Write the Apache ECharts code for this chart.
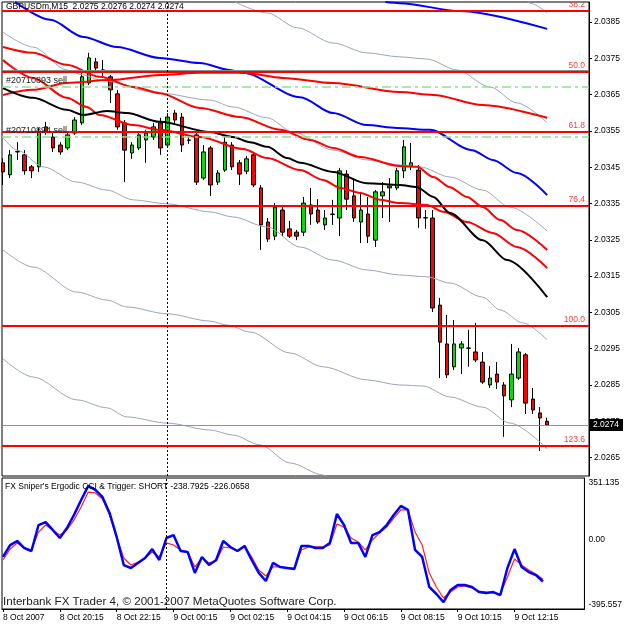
<!DOCTYPE html>
<html>
<head>
<meta charset="utf-8">
<title>GBPUSDm,M15</title>
<script src="https://cdn.jsdelivr.net/npm/echarts/dist/echarts.min.js"></script>
<style>
  html, body { margin: 0; padding: 0; background: #fff; }
  #chart { width: 625px; height: 625px; }
</style>
</head>
<body>
<div id="chart"></div>
<script>
// M15 bars, bar 0 = 8 Oct 18:15
var opens = [
  2.03462,2.03429,2.03492,2.03484,2.03451,2.03451,2.03561,2.03533,2.03511,2.03503,
  2.03544,2.03572,2.03682,2.03740,2.03718,2.03699,2.03652,2.03572,2.03489,2.03503,
  2.03525,2.03533,2.03572,2.03511,2.03599,2.03588,2.03525,2.03539,2.03420,2.03503,
  2.03409,2.03442,2.03511,2.03462,2.03439,2.03484,2.03393,2.03299,2.03260,2.03332,
  2.03280,2.03271,2.03271,2.03346,2.03332,2.03291,2.03321,2.03310,2.03431,2.03371,
  2.03299,2.03321,2.03249,2.03371,2.03393,2.03393,2.03440,2.03453,2.03442,2.03310,
  2.03310,2.03070,2.02963,2.02900,2.02952,2.02952,2.02941,2.02913,2.02850,2.02880,
  2.02850,2.02809,2.02869,2.02933,2.02811,2.02773,2.02750
];
var closes = [
  2.03437,2.03484,2.03493,2.03440,2.03440,2.03547,2.03547,2.03503,2.03492,2.03539,
  2.03580,2.03699,2.03751,2.03723,2.03717,2.03663,2.03561,2.03497,2.03511,2.03539,
  2.03544,2.03561,2.03503,2.03588,2.03580,2.03511,2.03524,2.03409,2.03492,2.03401,
  2.03434,2.03519,2.03451,2.03431,2.03473,2.03401,2.03291,2.03252,2.03340,2.03271,
  2.03260,2.03260,2.03351,2.03321,2.03299,2.03310,2.03320,2.03440,2.03362,2.03310,
  2.03332,2.03260,2.03382,2.03382,2.03398,2.03440,2.03506,2.03462,2.03310,2.03311,
  2.03062,2.02968,2.02878,2.02963,2.02963,2.02951,2.02919,2.02858,2.02869,2.02858,
  2.02820,2.02880,2.02941,2.02800,2.02781,2.02759,2.02740
];
var lows = [
  2.03401,2.03420,2.03470,2.03429,2.03420,2.03437,2.03539,2.03492,2.03484,2.03497,
  2.03539,2.03566,2.03676,2.03712,2.03699,2.03627,2.03553,2.03409,2.03473,2.03497,
  2.03462,2.03525,2.03484,2.03503,2.03569,2.03492,2.03514,2.03401,2.03415,2.03371,
  2.03401,2.03437,2.03442,2.03401,2.03431,2.03395,2.03222,2.03244,2.03249,2.03260,
  2.03255,2.03249,2.03260,2.03291,2.03294,2.03277,2.03291,2.03260,2.03332,2.03299,
  2.03241,2.03241,2.03230,2.03310,2.03299,2.03387,2.03420,2.03442,2.03283,2.03280,
  2.03051,2.02869,2.02869,2.02891,2.02880,2.02900,2.02913,2.02853,2.02842,2.02839,
  2.02707,2.02789,2.02864,2.02770,2.02770,2.02668,2.02740
];
var highs = [
  2.03475,2.03497,2.03519,2.03497,2.03456,2.03558,2.03575,2.03544,2.03519,2.03547,
  2.03588,2.03709,2.03765,2.03751,2.03745,2.03704,2.03663,2.03580,2.03519,2.03547,
  2.03553,2.03572,2.03586,2.03599,2.03608,2.03599,2.03533,2.03547,2.03511,2.03508,
  2.03442,2.03533,2.03519,2.03470,2.03481,2.03492,2.03401,2.03310,2.03351,2.03340,
  2.03302,2.03277,2.03368,2.03393,2.03362,2.03332,2.03360,2.03448,2.03442,2.03420,
  2.03382,2.03368,2.03387,2.03409,2.03420,2.03448,2.03525,2.03517,2.03456,2.03332,
  2.03332,2.03090,2.03043,2.03029,2.02971,2.03002,2.03021,2.02941,2.02902,2.02913,
  2.02858,2.02963,2.02952,2.02938,2.02842,2.02789,2.02760
];

// indicator lines on the price pane, [bar, price]
var blueSlow = [[1.7,2.03905],[6.6,2.03856],[11.2,2.03809],[15.9,2.03781],[21.9,2.03751],[27.5,2.03737],[31.7,2.03718],[33.5,2.03710],[41.5,2.03643],[46.1,2.03599],[50.8,2.03566],[55.0,2.03558],[59.6,2.03553],[65.5,2.03497],[68.4,2.03470],[71.8,2.03434],[76,2.03373]];
var blueUpper = [[53.4,2.03905],[55.4,2.03902],[63.8,2.03880],[76,2.03831]];
var redSlow = [[0,2.03649],[4.2,2.03663],[8.9,2.03682],[14.9,2.03690],[21.9,2.03704],[27.5,2.03710],[33.5,2.03710],[39.1,2.03696],[46.1,2.03682],[55.4,2.03657],[60.1,2.03649],[67.0,2.03621],[76,2.03586]];
var redUpper = [[0,2.03781],[4.2,2.03765],[8.9,2.03732],[13.5,2.03699],[18.2,2.03671],[21.9,2.03654],[27.5,2.03613],[33.1,2.03588],[38.7,2.03553],[42.9,2.03525],[46.1,2.03503],[49.9,2.03478],[55.4,2.03453],[57.8,2.03451],[60.1,2.03423],[62.4,2.03395],[64.8,2.03368],[67.0,2.03340],[69.4,2.03305],[71.8,2.03277],[76,2.03222]];
var redLower = [[0,2.03745],[4.2,2.03696],[8.9,2.03641],[11.7,2.03616],[13.5,2.03594],[18.2,2.03566],[21.9,2.03553],[27.5,2.03533],[33.5,2.03500],[36.9,2.03475],[41.5,2.03442],[44.7,2.03415],[47.1,2.03393],[49.9,2.03379],[52.7,2.03360],[55.4,2.03351],[59.2,2.03346],[61.5,2.03327],[64.8,2.03299],[68.4,2.03269],[71.8,2.03230],[76,2.03172]];
var blackMa = [[0,2.03668],[4.2,2.03641],[8.9,2.03608],[11.2,2.03594],[14.5,2.03605],[17.3,2.03599],[21.9,2.03575],[28.9,2.03547],[32.1,2.03533],[34.5,2.03519],[36.9,2.03506],[39.7,2.03475],[41.5,2.03462],[46.1,2.03437],[50.8,2.03406],[55.4,2.03401],[57.8,2.03395],[60.1,2.03368],[62.4,2.03324],[67.0,2.03249],[70.4,2.03194],[76,2.03092]];
var grayFastUp = [[0,2.03822],[4.2,2.03781],[8.9,2.03718],[11.2,2.03704],[13.5,2.03690],[21.9,2.03654],[28.9,2.03635],[32.1,2.03616],[36.9,2.03586],[40.5,2.03547],[46.1,2.03497],[50.8,2.03470],[55.4,2.03456],[58.2,2.03451],[62.4,2.03423],[67.0,2.03387],[70.8,2.03340],[76,2.03274]];
var grayFastDn = [[0,2.03531],[2.0,2.03497],[5.6,2.03451],[10.3,2.03409],[14.5,2.03387],[18.2,2.03360],[22.9,2.03349],[28.9,2.03327],[32.1,2.03313],[36.9,2.03285],[41.5,2.03230],[46.1,2.03194],[50.8,2.03167],[55.4,2.03153],[59.2,2.03148],[62.4,2.03131],[67.0,2.03092],[69.4,2.03057],[72.6,2.03021],[76,2.02974]];
var graySlowUp = [[32.4,2.03905],[36.9,2.03875],[41.1,2.03834],[46.1,2.03792],[50.8,2.03765],[55.4,2.03754],[59.2,2.03748],[63.4,2.03718],[68.0,2.03671],[71.8,2.03627],[76,2.03572]];
var grayTop = [[72.8,2.03915],[73.6,2.03902],[76,2.03875]];
var graySlowDn = [[0,2.03222],[4.2,2.03175],[10.3,2.03106],[14.5,2.03084],[17.3,2.03065],[22.9,2.03046],[28.9,2.03026],[31.3,2.03015],[34.5,2.02996],[40.1,2.02938],[44.7,2.02900],[50.8,2.02864],[55.4,2.02850],[58.7,2.02847],[62.4,2.02817],[67.0,2.02789],[70.8,2.02745],[76,2.02674]];
var grayFar = [[0,2.02922],[4.2,2.02872],[10.3,2.02809],[14.5,2.02787],[17.3,2.02762],[22.9,2.02745],[28.9,2.02726],[32.1,2.02712],[35.9,2.02685],[40.1,2.02635],[44.7,2.02602],[46.4,2.02575]];

var fibNames = ['38.2','50.0','61.8','76.4','100.0','123.6'];
var fibPrices = [2.03880,2.03712,2.03547,2.03343,2.03013,2.02682];
var orderNames = ['#20710893 sell','#20710894 sell'];
var orderPrices = [2.03671,2.03533];
var trendPrice = 2.03717;
var bidPrice = 2.0274;
var separatorBar = 23;

var priceTicks = [2.0265,2.0275,2.0285,2.0295,2.0305,2.0315,2.0325,2.0335,2.0345,2.0355,2.0365,2.0375,2.0385];
var timeTickBars = [0,8,16,24,32,40,48,56,64,72];
var timeLabels = ['8 Oct 2007','8 Oct 20:15','8 Oct 22:15','9 Oct 00:15','9 Oct 02:15','9 Oct 04:15','9 Oct 06:15','9 Oct 08:15','9 Oct 10:15','9 Oct 12:15'];

// FX Sniper's Ergodic CCI and trigger
var cci = [
  -99,-31,-8,-48,-65,83,100,55,9,66,
  141,226,306,283,243,152,15,-145,-162,-133,
  -105,-54,-116,9,26,-65,-71,-190,-99,-145,
  -116,-8,-42,-65,-36,-116,-190,-236,-133,-156,
  -162,-168,-36,-36,-48,-48,-19,146,83,-19,
  -19,-99,26,43,83,140,192,169,-59,-99,
  -270,-310,-356,-287,-259,-259,-270,-299,-304,-299,
  -316,-162,-54,-156,-185,-202,-238.79
];
var trigger = [
  -116,-54,-19,-48,-59,43,83,55,26,55,
  112,186,271,266,231,140,15,-105,-145,-128,
  -105,-71,-99,-19,-31,-59,-71,-156,-105,-133,
  -122,-42,-48,-65,-42,-99,-173,-207,-156,-156,
  -162,-162,-59,-42,-42,-42,-31,89,71,9,
  -14,-59,-2,38,71,123,169,169,43,-31,
  -190,-270,-333,-299,-270,-264,-276,-293,-299,-304,
  -310,-213,-111,-145,-173,-196,-226.07
];
var cciTicks = [-395.557, 0, 351.135];

var font = 'Liberation Sans, Arial, sans-serif';
var chart = echarts.init(document.getElementById('chart'));

function maLine(points, color, width) {
  return {
    type: 'line', xAxisIndex: 0, yAxisIndex: 0,
    data: points, showSymbol: false, smooth: 0.3, smoothMonotone: 'x',
    lineStyle: { color: color, width: width }, silent: true
  };
}

var candles = opens.map(function (o, i) { return [i, o, closes[i], lows[i], highs[i]]; });

var markLines = [];
fibPrices.forEach(function (p, i) {
  markLines.push({
    yAxis: p,
    lineStyle: { color: '#ff0000', width: 2, type: 'solid' },
    label: { show: true, position: 'insideEndTop', formatter: fibNames[i], color: '#ff3c3c', fontSize: 8.5, fontFamily: font, distance: [4, 2] }
  });
});
orderPrices.forEach(function (p, i) {
  markLines.push({
    yAxis: p,
    lineStyle: { color: '#8fe08f', width: 1.5, type: [9, 4, 3, 4] },
    label: { show: true, position: 'insideStartTop', formatter: orderNames[i], color: '#202020', fontSize: 9, fontFamily: font, distance: [4, 2] }
  });
});
markLines.push({ yAxis: trendPrice, lineStyle: { color: '#8a8a8a', width: 1, type: 'solid' }, label: { show: false } });
markLines.push({
  yAxis: bidPrice,
  lineStyle: { color: '#8793a6', width: 1, type: 'solid' },
  label: { show: true, position: 'end', formatter: bidPrice.toFixed(4), color: '#fff', backgroundColor: '#000', padding: [2, 4, 1, 3], fontSize: 8.5, fontFamily: font, distance: 1 }
});
markLines.push({ xAxis: separatorBar, lineStyle: { color: '#000', width: 1, type: [2, 2] }, label: { show: false } });

var xBase = { type: 'value', min: -0.14, max: 81.84, splitLine: { show: false } };

chart.setOption({
  animation: false,
  backgroundColor: '#fff',
  textStyle: { fontFamily: font },
  title: [
    { text: 'GBPUSDm,M15  2.0275 2.0276 2.0274 2.0274', left: 6, top: 2, padding: 0,
      textStyle: { fontSize: 8.5, fontWeight: 'normal', color: '#000', fontFamily: font } },
    { text: "FX Sniper's Ergodic CCI & Trigger: SHORT -238.7925 -226.0658", left: 5, top: 482, padding: 0,
      textStyle: { fontSize: 8.5, fontWeight: 'normal', color: '#000', fontFamily: font } },
    { text: 'Interbank FX Trader 4, \u00a9 2001-2007 MetaQuotes Software Corp.', left: 3, top: 596, padding: 0,
      textStyle: { fontSize: 11.6, fontWeight: 'normal', color: '#222', fontFamily: font } }
  ],
  grid: [
    { left: 2, top: 2, width: 587, height: 474, show: true, borderColor: '#000', borderWidth: 1, backgroundColor: '#fff' },
    { left: 2, top: 478, width: 587, height: 131, show: true, borderColor: '#000', borderWidth: 1, backgroundColor: '#fff' }
  ],
  xAxis: [
    Object.assign({}, xBase, { gridIndex: 0, axisLine: { show: false, onZero: false }, axisTick: { show: false }, axisLabel: { show: false } }),
    Object.assign({}, xBase, {
      gridIndex: 1,
      axisLine: { show: true, onZero: false, lineStyle: { color: '#000' } },
      axisTick: { show: true, customValues: timeTickBars, length: 3, lineStyle: { color: '#000' } },
      axisLabel: {
        show: true, customValues: timeTickBars, align: 'left', margin: 4,
        fontSize: 8.5, color: '#000', fontFamily: font,
        formatter: function (v) { return timeLabels[timeTickBars.indexOf(Math.round(v))] || ''; }
      }
    })
  ],
  yAxis: [
    {
      type: 'value', gridIndex: 0, position: 'right', min: 2.025992, max: 2.039051,
      splitLine: { show: false },
      axisLine: { show: true, onZero: false, lineStyle: { color: '#000' } },
      axisTick: { show: true, customValues: priceTicks, length: 3, lineStyle: { color: '#000' } },
      axisLabel: { customValues: priceTicks, margin: 5, fontSize: 8.5, color: '#000', fontFamily: font,
        formatter: function (v) { return v.toFixed(4); } }
    },
    {
      type: 'value', gridIndex: 1, position: 'right', min: -395.557, max: 351.135,
      splitLine: { show: false },
      axisLine: { show: true, onZero: false, lineStyle: { color: '#000' } },
      axisTick: { show: false },
      axisLabel: { customValues: cciTicks, margin: 4, fontSize: 8.5, color: '#000', fontFamily: font,
        verticalAlignMinLabel: 'bottom', verticalAlignMaxLabel: 'top',
        formatter: function (v) { return v === 0 ? '0.00' : v.toFixed(3); } }
    }
  ],
  series: [
    {
      type: 'candlestick', xAxisIndex: 0, yAxisIndex: 0, barWidth: 4, silent: true,
      data: candles,
      itemStyle: { color: '#00dd00', color0: '#ff0000', borderColor: '#000', borderColor0: '#000', borderColorDoji: '#000', borderWidth: 1 }
    },
    maLine(grayFastUp, '#9aa6ba', 1),
    maLine(grayFastDn, '#9aa6ba', 1),
    maLine(graySlowUp, '#9aa6ba', 1),
    maLine(grayTop, '#9aa6ba', 1),
    maLine(graySlowDn, '#9aa6ba', 1),
    maLine(grayFar, '#9aa6ba', 1),
    maLine(blueSlow, '#0000ff', 2),
    maLine(blueUpper, '#0000ff', 2),
    maLine(redSlow, '#ff0000', 2),
    maLine(redUpper, '#ff0000', 2),
    maLine(redLower, '#ff0000', 2),
    maLine(blackMa, '#000000', 2),
    {
      // carrier for horizontal objects: fibo levels, orders, bid line
      type: 'line', xAxisIndex: 0, yAxisIndex: 0, silent: true,
      data: [[0, bidPrice]], showSymbol: false, lineStyle: { opacity: 0 },
      markLine: { symbol: ['none', 'none'], precision: 5, silent: true, animation: false, data: markLines }
    },
    {
      type: 'line', xAxisIndex: 1, yAxisIndex: 1, silent: true,
      data: trigger.map(function (v, i) { return [i, v]; }),
      showSymbol: false, lineStyle: { color: '#ff2020', width: 1.2 }
    },
    {
      type: 'line', xAxisIndex: 1, yAxisIndex: 1, silent: true,
      data: cci.map(function (v, i) { return [i, v]; }),
      showSymbol: false, lineStyle: { color: '#0000ff', width: 2.5 },
      markLine: { symbol: ['none', 'none'], silent: true, animation: false,
        data: [{ xAxis: separatorBar, lineStyle: { color: '#000', width: 1, type: [2, 2] }, label: { show: false } }] }
    }
  ]
});
</script>
</body>
</html>
